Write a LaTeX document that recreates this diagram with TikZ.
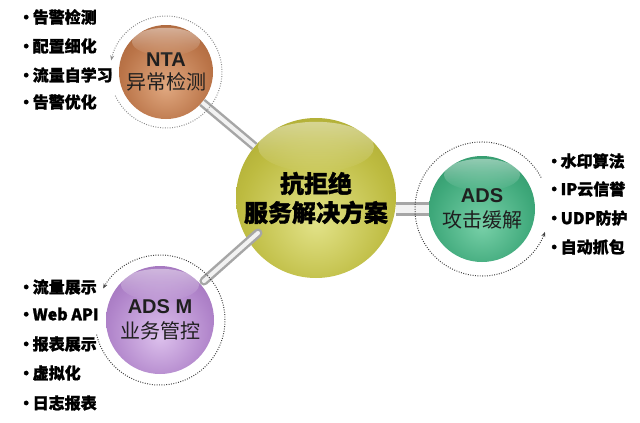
\documentclass[tikz,border=0pt]{standalone}
\usepackage{fontspec}
\setmainfont{Liberation Sans}
\newfontfamily\cjk{Noto Sans CJK SC}[BoldFeatures={FakeBold=1.2}]
\usetikzlibrary{arrows.meta,fadings}

% sphere colours: light, middle, deep, rim
\definecolor{coreL}{HTML}{E2E288}\definecolor{coreM}{HTML}{BDBB40}\definecolor{coreN}{HTML}{9C9826}\definecolor{coreD}{HTML}{4E4A06}
\definecolor{ntaL}{HTML}{E0A880}\definecolor{ntaM}{HTML}{BA7448}\definecolor{ntaN}{HTML}{98562E}\definecolor{ntaD}{HTML}{40200C}
\definecolor{adsL}{HTML}{78D0A8}\definecolor{adsM}{HTML}{3EA87A}\definecolor{adsN}{HTML}{24845A}\definecolor{adsD}{HTML}{083E28}
\definecolor{mgtL}{HTML}{DCC0EC}\definecolor{mgtM}{HTML}{B084CA}\definecolor{mgtN}{HTML}{8C5CA8}\definecolor{mgtD}{HTML}{402258}

\pgfdeclareradialshading{coreshade}{\pgfpoint{0bp}{-8bp}}{color(0bp)=(coreL); color(24bp)=(coreM); color(44bp)=(coreN); color(56bp)=(coreD); color(70bp)=(coreD)}
\pgfdeclareradialshading{ntashade}{\pgfpoint{0bp}{-8bp}}{color(0bp)=(ntaL); color(24bp)=(ntaM); color(44bp)=(ntaN); color(56bp)=(ntaD); color(70bp)=(ntaD)}
\pgfdeclareradialshading{adsshade}{\pgfpoint{0bp}{-8bp}}{color(0bp)=(adsL); color(24bp)=(adsM); color(44bp)=(adsN); color(56bp)=(adsD); color(70bp)=(adsD)}
\pgfdeclareradialshading{mgtshade}{\pgfpoint{0bp}{-8bp}}{color(0bp)=(mgtL); color(24bp)=(mgtM); color(44bp)=(mgtN); color(56bp)=(mgtD); color(70bp)=(mgtD)}
\tikzfading[name=glossfade, top color=transparent!55, bottom color=transparent!100]

\newcommand{\itm}[1]{•\hspace{-1.5pt}#1}

\tikzset{
  sphere/.style={circle, inner sep=0pt, align=center, text=black!88},
  ring/.style={line width=1pt, dash pattern=on 0.9pt off 1.5pt, draw=black!75, -{Stealth[length=5pt,width=4pt]}},
  rod/.style={draw=gray!70, line width=2.5pt, double=gray!10, double distance=4pt},
  bigrod/.style={rod, line width=3pt, double distance=8pt},
  item/.style={anchor=west, inner sep=0pt, font=\cjk\bfseries\fontsize{16}{16}\selectfont}
}

\begin{document}
\begin{tikzpicture}[x=1pt,y=-1pt]
  \fill[white] (0,0) rectangle (640,423);
  \useasboundingbox (0,0) rectangle (640,423);

  \node[sphere, shading=coreshade, minimum size=160pt, font=\cjk\bfseries\fontsize{24}{29}\selectfont, text=black] (core) at (316,198) {抗拒绝\\服务解决方案};
  \node[sphere, shading=ntashade, minimum size=94pt, font=\fontsize{20}{23}\selectfont] (nta) at (166,72) {\bfseries NTA\\\cjk 异常检测};
  \node[sphere, shading=adsshade, minimum size=106pt, font=\fontsize{20}{25}\selectfont] (ads) at (482,209) {\bfseries ADS\\\cjk 攻击缓解};
  \node[sphere, shading=mgtshade, minimum size=108pt, font=\fontsize{20}{25}\selectfont] (mgt) at (160,320) {\bfseries ADS M\\\cjk 业务管控};

  % gloss
  \fill[white, path fading=glossfade] ([yshift=-29pt]core.north) ellipse [x radius=58, y radius=25];
  \fill[white, path fading=glossfade] ([yshift=-17pt]nta.north) ellipse [x radius=34, y radius=14];
  \fill[white, path fading=glossfade] ([yshift=-19pt]ads.north) ellipse [x radius=38, y radius=16];
  \fill[white, path fading=glossfade] ([yshift=-19pt]mgt.north) ellipse [x radius=39, y radius=16];

  % rods
  \coordinate (knob) at (258,233);
  \draw[rod] (nta) -- (core);
  \draw[bigrod] (ads.west) -- (ads.west -| core.east);
  \draw[rod, line cap=round, shorten <=4.5pt] (mgt) -- (knob);

  % rings
  \draw[ring, draw=black!45] (nta.center) ++(-205:56) arc[start angle=-205, end angle=-528, radius=56];
  \draw[ring] (ads.center) ++(-28:67) arc[start angle=-28, end angle=-340, radius=67];
  \draw[ring] (mgt.center) ++(-193:65) arc[start angle=-193, end angle=-511, radius=65];

  % lists
  \node[item] (n1) at (18,17) {\itm{告警检测}}; \node[item] (n2) at (18,46) {\itm{配置细化}};
  \node[item] (n3) at (18,75) {\itm{流量自学习}}; \node[item] (n4) at (18,102) {\itm{告警优化}};
  \node[item] (a1) at (546,161) {\itm{水印算法}}; \node[item] (a2) at (546,189) {\itm{IP云信誉}};
  \node[item] (a3) at (546,218) {\itm{UDP防护}}; \node[item] (a4) at (546,247) {\itm{自动抓包}};
  \node[item] (m1) at (18,287) {\itm{流量展示}}; \node[item] (m2) at (18,314) {\itm{Web API}};
  \node[item] (m3) at (18,344) {\itm{报表展示}}; \node[item] (m4) at (18,373) {\itm{虚拟化}};
  \node[item] (m5) at (18,403) {\itm{日志报表}};
\end{tikzpicture}
\end{document}
